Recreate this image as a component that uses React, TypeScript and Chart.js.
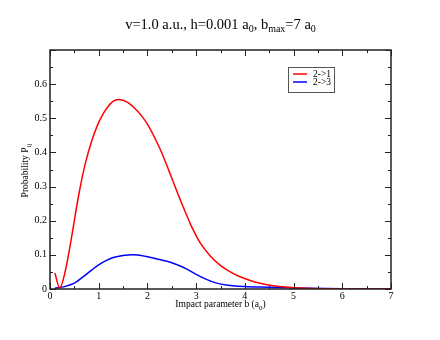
import React, { useEffect, useRef } from 'react';
import { Chart, registerables } from 'chart.js';

Chart.register(...registerables);

const seriesLabels = ['2->1', '2->3'];
const seriesColors = ['#ff0000', '#0000ff'];

const redB = [0.1, 0.2, 0.31, 0.45, 0.58, 0.72, 0.86, 0.99, 1.1, 1.2, 1.3, 1.39, 1.5, 1.61, 1.75, 1.88, 2.0, 2.16, 2.3, 2.45, 2.6, 2.75, 2.9, 3.08, 3.29, 3.49, 3.7, 3.9, 4.11, 4.31, 4.52, 4.72, 5.0, 5.5, 6.0, 7.0];
const redP = [0.047, 0.003, 0.05, 0.158, 0.268, 0.365, 0.435, 0.485, 0.515, 0.536, 0.55, 0.555, 0.553, 0.545, 0.528, 0.507, 0.483, 0.44, 0.397, 0.343, 0.288, 0.235, 0.185, 0.136, 0.097, 0.07, 0.05, 0.036, 0.025, 0.017, 0.011, 0.007, 0.004, 0.001, 0.0003, 0.0];

const blueB = [0.1, 0.3, 0.51, 0.72, 0.86, 0.99, 1.15, 1.3, 1.5, 1.71, 1.95, 2.2, 2.4, 2.57, 2.8, 3.0, 3.2, 3.4, 3.65, 4.0, 4.5, 5.0, 6.0, 7.0];
const blueP = [0.002, 0.007, 0.018, 0.04, 0.056, 0.07, 0.083, 0.092, 0.098, 0.1, 0.096, 0.088, 0.081, 0.073, 0.059, 0.043, 0.029, 0.018, 0.011, 0.007, 0.005, 0.003, 0.001, 0.0005];

const xMin = 0;
const xMax = 7;
const xMajor = [0, 1, 2, 3, 4, 5, 6, 7];
const xMinor = [0.5, 1.5, 2.5, 3.5, 4.5, 5.5, 6.5];
const yMin = 0;
const yMax = 0.7;
const yMajor = [0, 0.1, 0.2, 0.3, 0.4, 0.5, 0.6, 0.7];
const yMinor = [0.05, 0.15, 0.25, 0.35, 0.45, 0.55, 0.65];
const yLabelMax = 0.6;

const FONT = '"Liberation Serif", "DejaVu Serif", serif';

type Piece = [string, boolean];
const titlePieces: Piece[] = [['v=1.0 a.u., h=0.001 a', false], ['0', true], [', b', false], ['max', true], ['=7 a', false], ['0', true]];
const xTitlePieces: Piece[] = [['Impact parameter b (a', false], ['0', true], [')', false]];
const yTitlePieces: Piece[] = [['Probability P', false], ['ij', true]];

function drawPieces(ctx: CanvasRenderingContext2D, pieces: Piece[], cx: number, baseline: number, size: number, subSize: number, subShift: number) {
  const widths = pieces.map(([t, sub]) => {
    ctx.font = `${sub ? subSize : size}px ${FONT}`;
    return ctx.measureText(t).width;
  });
  const total = widths.reduce((a, b) => a + b, 0);
  let x = cx - total / 2;
  ctx.textAlign = 'left';
  ctx.textBaseline = 'alphabetic';
  pieces.forEach(([t, sub], i) => {
    ctx.font = `${sub ? subSize : size}px ${FONT}`;
    ctx.fillText(t, x, baseline + (sub ? subShift : 0));
    x += widths[i];
  });
}

const decorPlugin = {
  id: 'decor',
  afterDraw(chart: any) {
    const ctx: CanvasRenderingContext2D = chart.ctx;
    const { left, right, top, bottom } = chart.chartArea;
    const xs = chart.scales.x;
    const ys = chart.scales.y;
    ctx.save();
    ctx.strokeStyle = '#222';
    ctx.lineWidth = 1.5;
    ctx.strokeRect(left, top, right - left, bottom - top);
    ctx.lineWidth = 1;
    const tick = (x1: number, y1: number, x2: number, y2: number) => {
      ctx.beginPath();
      ctx.moveTo(x1, y1);
      ctx.lineTo(x2, y2);
      ctx.stroke();
    };
    xMajor.forEach((v) => {
      const p = Math.round(xs.getPixelForValue(v)) + 0.5;
      tick(p, bottom, p, bottom - 6);
      tick(p, top, p, top + 6);
    });
    xMinor.forEach((v) => {
      const p = Math.round(xs.getPixelForValue(v)) + 0.5;
      tick(p, bottom, p, bottom - 3);
      tick(p, top, p, top + 3);
    });
    yMajor.forEach((v) => {
      const p = Math.round(ys.getPixelForValue(v)) + 0.5;
      tick(left, p, left + 6, p);
      tick(right, p, right - 6, p);
    });
    yMinor.forEach((v) => {
      const p = Math.round(ys.getPixelForValue(v)) + 0.5;
      tick(left, p, left + 3, p);
      tick(right, p, right - 3, p);
    });

    ctx.fillStyle = '#000';
    drawPieces(ctx, titlePieces, (left + right) / 2, 28.5, 14.5, 10, 3);
    drawPieces(ctx, xTitlePieces, (left + right) / 2, 307, 9.5, 7, 3);
    ctx.save();
    ctx.translate(28, (top + bottom) / 2 + 1);
    ctx.rotate(-Math.PI / 2);
    drawPieces(ctx, yTitlePieces, 0, 0, 9.5, 7, 3);
    ctx.restore();

    // legend
    const lx = 288.5, ly = 67.5, lw = 46, lh = 25;
    ctx.fillStyle = '#fff';
    ctx.fillRect(lx, ly, lw, lh);
    ctx.strokeStyle = '#555';
    ctx.lineWidth = 1;
    ctx.strokeRect(lx, ly, lw, lh);
    chart.data.datasets.forEach((ds: any, i: number) => {
      const yy = 74 + i * 8;
      ctx.strokeStyle = ds.borderColor;
      ctx.lineWidth = 1.5;
      tick(293, yy, 307, yy);
      ctx.fillStyle = '#000';
      ctx.font = `9.5px ${FONT}`;
      ctx.textAlign = 'left';
      ctx.textBaseline = 'middle';
      ctx.fillText(ds.label, 313, yy + 0.5);
    });
    ctx.restore();
  },
};

export default function App() {
  const ref = useRef<HTMLCanvasElement>(null);
  useEffect(() => {
    if (!ref.current) return;
    const chart = new Chart(ref.current, {
      type: 'line',
      data: {
        datasets: [
          {
            label: seriesLabels[0],
            data: redB.map((b, i) => ({ x: b, y: redP[i] })),
            borderColor: seriesColors[0],
            borderWidth: 1.5,
            pointRadius: 0,
            cubicInterpolationMode: 'monotone',
            fill: false,
          },
          {
            label: seriesLabels[1],
            data: blueB.map((b, i) => ({ x: b, y: blueP[i] })),
            borderColor: seriesColors[1],
            borderWidth: 1.5,
            pointRadius: 0,
            cubicInterpolationMode: 'monotone',
            fill: false,
          },
        ],
      },
      options: {
        responsive: false,
        animation: false,
        layout: { padding: { top: 50, right: 49, left: 0, bottom: 0 } },
        plugins: { legend: { display: false }, title: { display: false }, tooltip: { enabled: false } },
        scales: {
          x: {
            type: 'linear',
            min: xMin,
            max: xMax,
            grid: { display: false, drawTicks: false },
            border: { display: false },
            ticks: {
              stepSize: 1,
              autoSkip: false,
              maxRotation: 0,
              padding: 1,
              color: '#000',
              font: { family: FONT, size: 10 },
              callback: (v: any) => String(Math.round(Number(v))),
            },
            afterFit: (s: any) => { s.height = 51; },
          },
          y: {
            type: 'linear',
            min: yMin,
            max: yMax,
            grid: { display: false, drawTicks: false },
            border: { display: false },
            ticks: {
              stepSize: 0.1,
              autoSkip: false,
              padding: 3,
              color: '#000',
              font: { family: FONT, size: 10 },
              callback: (v: any) => {
                const n = Number(v);
                if (n > yLabelMax + 1e-6) return '';
                return n === 0 ? '0' : n.toFixed(1);
              },
            },
            afterFit: (s: any) => { s.width = 50; },
          },
        },
      },
      plugins: [decorPlugin],
    } as any);
    return () => chart.destroy();
  }, []);
  return (
    <div style={{ position: 'fixed', left: 0, top: 0, width: 440, height: 340, background: '#fff' }}>
      <canvas ref={ref} width={440} height={340} />
    </div>
  );
}
